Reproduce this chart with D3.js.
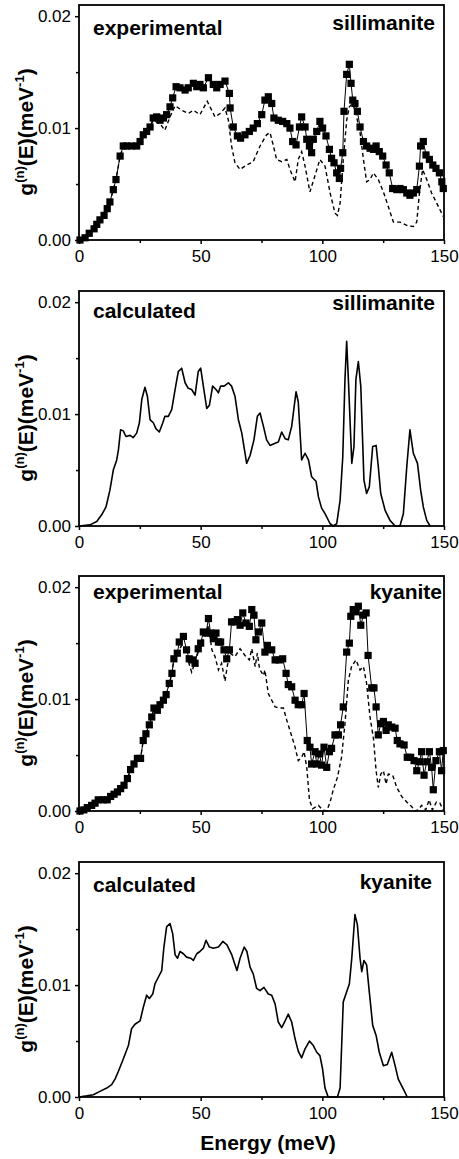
<!DOCTYPE html>
<html>
<head>
<meta charset="utf-8">
<script src="https://cdn.jsdelivr.net/npm/d3@7"></script>
<style>
  html, body { margin: 0; padding: 0; background: #fff; }
  svg { display: block; font-family: "Liberation Sans", Arial, sans-serif; }
</style>
</head>
<body>
<svg id="chart" width="459" height="1159"></svg>
<script>
// ---- data (energy in meV, g(n)(E) in 1/meV) ----
var xTicks = [0, 50, 100, 150];
var xMinorTicks = [25, 75, 125];
var yTicks = [0, 0.01, 0.02];
var yMinorTicks = [0.005, 0.015];

var silExp = [[0.4,0],[2.5,0.0002],[4.2,0.0006],[6.2,0.001],[7.3,0.0014],[8.6,0.0018],[10.3,0.0022],[11.6,0.0028],
  [12.7,0.0034],[14.1,0.0045],[15.2,0.0054],[16.9,0.0075],[18.2,0.0084],[19.6,0.0084],[21.6,0.0084],[23.7,0.0084],
  [25.1,0.0088],[26.4,0.0094],[27.8,0.0097],[29.2,0.0101],[30.5,0.0109],[31.9,0.011],[33.3,0.0107],[34.7,0.0109],
  [36,0.0112],[37.4,0.0119],[38.5,0.0127],[39.9,0.0137],[41.5,0.0136],[43.6,0.0134],[44.9,0.0136],[47,0.014],
  [48.4,0.0137],[49.7,0.0139],[51.1,0.0136],[53.2,0.0145],[55.2,0.0139],[56.6,0.0136],[58,0.0139],[60,0.0142],
  [61.8,0.0131],[62.1,0.0118],[63.4,0.0101],[65.1,0.0093],[66.4,0.0091],[68.2,0.0094],[70,0.0097],[71.6,0.01],
  [73.3,0.0104],[75.1,0.0112],[76.4,0.0125],[77.8,0.0128],[79.2,0.0122],[80.1,0.0109],[81.9,0.0107],[83.7,0.0106],
  [85.4,0.0104],[86.7,0.01],[87.8,0.0088],[89.2,0.0085],[90.6,0.0101],[91.5,0.011],[92.9,0.0101],[93.6,0.009],
  [94.7,0.0084],[95.6,0.0078],[96.3,0.009],[97.7,0.0097],[99,0.0106],[100.1,0.01],[101.5,0.0093],[102.9,0.0081],
  [103.8,0.0073],[104.8,0.0069],[105.9,0.006],[107,0.0055],[107.5,0.0064],[108.4,0.0078],[108.9,0.0115],[110,0.0148],
  [111.1,0.0157],[111.8,0.014],[112.5,0.0125],[113.4,0.0122],[114.4,0.0115],[115.5,0.0101],[116.9,0.0088],[118.2,0.0084],
  [119.6,0.0082],[121,0.0081],[122.1,0.0084],[123.4,0.0079],[124.8,0.0075],[126.2,0.0067],[127.5,0.006],[128.9,0.0046],
  [130.6,0.0045],[131.9,0.0046],[133.3,0.0045],[134.7,0.0042],[136,0.004],[137.4,0.0042],[138.8,0.0045],[139.9,0.0066],
  [140.4,0.0084],[141.5,0.0088],[142.6,0.0076],[144,0.0072],[145.4,0.0067],[146.7,0.0064],[148.1,0.006],[149.1,0.0052],
  [149.7,0.0046]];

var silExpDash = [[0.4,0],[2.5,0.0002],[4.2,0.0006],[6.2,0.001],[7.3,0.0014],[8.6,0.0018],[10.3,0.0022],[11.6,0.0028],
  [12.7,0.0034],[14.1,0.0045],[15.2,0.0054],[16.9,0.0075],[18.2,0.0084],[21.6,0.0084],[23.7,0.0084],[25.1,0.0088],
  [26.4,0.0094],[27.8,0.0097],[29.2,0.0101],[30.5,0.0107],[33.3,0.0104],[35.3,0.0098],[37.4,0.011],[39.5,0.012],
  [42.2,0.0116],[44.9,0.0113],[47,0.0116],[49.7,0.0112],[52.7,0.0124],[55.9,0.011],[58,0.0113],[60,0.0118],
  [61.4,0.0107],[62.7,0.0084],[64.1,0.0069],[66.2,0.0063],[68.9,0.0067],[71.6,0.007],[74.4,0.0084],[77.1,0.0094],
  [78.5,0.0096],[79.9,0.0084],[81.2,0.0072],[83.3,0.007],[85.4,0.0072],[86.7,0.0063],[88.8,0.0052],[90.1,0.0072],
  [91.5,0.0079],[92.9,0.0066],[94.9,0.0043],[96.9,0.0057],[99,0.0072],[101.1,0.0066],[103.2,0.0042],[105.2,0.0024],
  [106.2,0.0022],[107.3,0.0033],[108.6,0.0072],[110,0.0107],[111.1,0.0119],[112.5,0.0122],[113.8,0.0113],[115.5,0.0096],
  [116.9,0.0072],[118.2,0.0052],[119.6,0.0054],[121,0.006],[123,0.0054],[125.1,0.0043],[127.1,0.003],[129.2,0.0016],
  [131.9,0.0016],[134.7,0.0013],[137.4,0.0012],[138.8,0.0016],[139.9,0.0042],[141.2,0.0063],[142.9,0.0054],[144.9,0.0042],
  [147,0.0033],[149.7,0.0021]];

var silCalc = [[0,0],[4.5,0.0001],[7.3,0.0004],[9.3,0.001],[11.1,0.0017],[12.7,0.0032],[14.1,0.005],[15.5,0.0059],
  [16.2,0.0068],[17.1,0.0086],[18.2,0.0085],[19.3,0.008],[21,0.0081],[22.3,0.0079],[23.7,0.0083],[24.8,0.0092],
  [25.8,0.0113],[27.1,0.0124],[28.1,0.0116],[29.2,0.0095],[30.6,0.0092],[31.6,0.0087],[33,0.0084],[34.4,0.0092],
  [35.3,0.0098],[36.7,0.0098],[38.1,0.0104],[39.5,0.0122],[40.8,0.0138],[42.2,0.0141],[43.6,0.0128],[44.9,0.0123],
  [46.3,0.0122],[47.7,0.0117],[49,0.0138],[50,0.0141],[51.1,0.0125],[52.5,0.0105],[53.6,0.0108],[54.9,0.0125],
  [56.3,0.0122],[57.3,0.0119],[58.2,0.0125],[59.6,0.0125],[61.4,0.0128],[62.7,0.0125],[64.1,0.0116],[65.5,0.0095],
  [66.9,0.0083],[68.9,0.0056],[70.3,0.0063],[71.9,0.0077],[73.3,0.0098],[74.4,0.0101],[75.8,0.0089],[77.1,0.0077],
  [78.5,0.0072],[80.6,0.0074],[81.9,0.0075],[83.3,0.0084],[84.7,0.0078],[86,0.0077],[87.4,0.0089],[89.2,0.012],
  [90.1,0.0111],[91.5,0.0059],[92.9,0.0065],[94.3,0.0059],[95.6,0.0044],[97.4,0.004],[98.4,0.0026],[99.7,0.0016],
  [101.1,0.0011],[103.2,0.0002],[104.5,0],[105.9,0.0002],[107.3,0.0023],[108.4,0.0062],[109.3,0.0131],[110,0.0165],
  [110.7,0.0131],[112.1,0.0056],[113,0.0071],[113.8,0.0131],[114.8,0.0147],[115.8,0.0125],[117.1,0.0041],[118.2,0.0029],
  [119.3,0.0035],[120.7,0.0071],[122.1,0.0072],[123,0.0053],[124,0.0029],[125.8,0.0014],[127.8,0.0005],[129.9,0],
  [131.9,0],[133.3,0.0011],[134.7,0.0053],[136,0.0086],[137.4,0.0065],[139.1,0.0056],[140.4,0.0032],[141.5,0.0017],
  [142.9,0.0005],[144.3,0]];

var kyaExp = [[0.4,0],[2,0.0001],[3.4,0.0003],[5.2,0.0005],[6.6,0.0007],[7.9,0.001],[10,0.001],[11.6,0.001],
  [13,0.0013],[14.4,0.0015],[15.8,0.0017],[17.1,0.002],[18.5,0.0023],[19.9,0.0029],[21.2,0.0037],[22.6,0.0042],
  [24,0.0047],[25.3,0.0047],[26.4,0.0063],[27.5,0.0069],[28.9,0.0077],[29.9,0.0084],[30.8,0.0092],[32.2,0.009],
  [33.3,0.0095],[34.7,0.0099],[35.8,0.0104],[37.1,0.0114],[38.2,0.0123],[39,0.0136],[40.4,0.0141],[41.2,0.0151],
  [42.9,0.0156],[44.2,0.0144],[45.3,0.0136],[46.7,0.0135],[47.7,0.0132],[49,0.0145],[50,0.015],[51.1,0.016],
  [52.2,0.0159],[53.2,0.0172],[54.1,0.0159],[55.2,0.0154],[56.3,0.0159],[57.3,0.0151],[58.2,0.0151],[59.6,0.0144],
  [60.7,0.0136],[61.8,0.0144],[62.7,0.0169],[64.1,0.0169],[65.1,0.0171],[66.2,0.0166],[67.3,0.0177],[68.6,0.0168],
  [70,0.0165],[71,0.018],[71.9,0.0175],[72.7,0.0153],[73.7,0.016],[75.1,0.0168],[76.4,0.0142],[77.4,0.0148],
  [79.2,0.0144],[80.6,0.0135],[82.3,0.0135],[83.7,0.0136],[85.1,0.0123],[86,0.0113],[87.4,0.0111],[88.8,0.0099],
  [90.1,0.0095],[91.5,0.0095],[92.5,0.0105],[93.8,0.0063],[94.9,0.0057],[95.6,0.0042],[97,0.0053],[97.7,0.0042],
  [98.8,0.0051],[99.7,0.0041],[100.7,0.0057],[101.8,0.0039],[102.9,0.0053],[103.8,0.0056],[105.2,0.0068],[106.6,0.0068],
  [107.5,0.0077],[108.6,0.0093],[110,0.0142],[111.1,0.015],[111.7,0.0174],[112.7,0.018],[113.8,0.0178],[114.8,0.0183],
  [115.8,0.0166],[116.9,0.0175],[118,0.0177],[118.8,0.0139],[120.3,0.011],[121.2,0.011],[122.1,0.0093],[123,0.0068],
  [124,0.0078],[125.1,0.008],[126.2,0.0072],[127.1,0.0077],[128.5,0.0075],[129.9,0.0074],[130.8,0.0063],[131.9,0.006],
  [133.6,0.0059],[134.9,0.0048],[136.3,0.0048],[137.7,0.0045],[138.8,0.0036],[139.9,0.0044],[140.8,0.0053],[141.8,0.0032],
  [142.9,0.0044],[144,0.0053],[144.9,0.0039],[145.6,0.0019],[146.7,0.0045],[148.1,0.0053],[149,0.0036],[149.7,0.0054]];

var kyaExpDash = [[0.4,0],[2,0.0001],[3.4,0.0003],[5.2,0.0005],[6.6,0.0007],[7.9,0.001],[10,0.001],[11.6,0.001],
  [13,0.0013],[14.4,0.0015],[15.8,0.0017],[17.1,0.002],[18.5,0.0023],[19.9,0.0029],[21.2,0.0037],[22.6,0.0042],
  [24,0.0047],[25.3,0.0047],[26.4,0.0063],[27.5,0.0069],[28.9,0.0077],[29.9,0.0084],[30.8,0.0092],[32.2,0.009],
  [33.3,0.0095],[34.7,0.0099],[35.8,0.0104],[37.1,0.0114],[38.2,0.0123],[39,0.0136],[40.4,0.0141],[42.2,0.0148],
  [44.2,0.0139],[46.3,0.0124],[48.4,0.0138],[50.4,0.0151],[51.8,0.0156],[53.2,0.0166],[54.6,0.0144],[55.9,0.0138],
  [57.3,0.0126],[58.6,0.0132],[60,0.0116],[60.9,0.0129],[62,0.0141],[64.1,0.0138],[66.2,0.0145],[68.2,0.0139],
  [70,0.0135],[71,0.0145],[72.4,0.0129],[73.3,0.0141],[74.2,0.0127],[75.8,0.0121],[76.4,0.0126],[77.8,0.0105],
  [79.2,0.0099],[80.6,0.0093],[82.6,0.0092],[84,0.0092],[85.4,0.0081],[86.7,0.0072],[88.8,0.0057],[90.1,0.0045],
  [91.5,0.0048],[92.5,0.0053],[93.6,0.0039],[94.7,0.001],[96,0.0002],[98.4,0.0005],[100.1,0.0001],[101.8,0],
  [103.2,0.0008],[104.5,0.0019],[106.2,0.003],[107.9,0.0048],[109.3,0.0078],[110.7,0.0117],[112,0.0129],[113.8,0.0135],
  [115.5,0.0126],[116.9,0.0129],[118.2,0.0114],[119.6,0.0084],[121,0.0065],[122.1,0.0036],[123,0.0021],[124,0.0033],
  [125.1,0.0036],[126.2,0.0024],[127.1,0.0033],[128.9,0.0032],[130.6,0.0021],[132.6,0.0013],[134.7,0.0008],[136.7,0.0004],
  [138.1,0],[139.4,0.0001],[140.8,0.0005],[142.5,0.0001],[143.9,0.001],[145.2,0.0001],[146.9,0.0008],[148.3,0.0007],
  [149.7,0.0001]];

var kyaCalc = [[0,0],[3.2,0.0001],[5.9,0.0002],[8.6,0.0005],[11.4,0.0008],[13.4,0.0011],[14.8,0.0016],[16.2,0.0023],
  [18.2,0.0034],[20.3,0.0046],[21.6,0.0061],[23,0.0065],[25.1,0.0068],[26.4,0.008],[27.8,0.0091],[28.9,0.0088],
  [30.3,0.0092],[31.2,0.0101],[32.6,0.0107],[34,0.0113],[34.9,0.0134],[36,0.0152],[37.4,0.0155],[38.5,0.0146],
  [39.5,0.0127],[40.5,0.0124],[41.5,0.013],[42.9,0.0128],[44.2,0.0125],[45.9,0.0124],[47,0.0122],[48.4,0.0128],
  [49.7,0.013],[51.1,0.0133],[52.2,0.014],[53.6,0.0134],[55.2,0.0133],[57.3,0.0134],[59.1,0.0139],[60.8,0.0136],
  [62.8,0.0127],[64.9,0.0113],[66.2,0.0124],[67.9,0.0134],[69,0.013],[70.3,0.0116],[71.6,0.011],[73,0.0097],
  [74.4,0.0095],[76,0.0098],[77.8,0.0092],[79.2,0.0091],[80.6,0.0083],[81.9,0.0067],[83.3,0.0062],[84.7,0.0068],
  [86,0.0074],[87.4,0.0067],[88.8,0.0052],[90.1,0.0041],[91.5,0.0035],[92.9,0.0043],[94.7,0.005],[96.3,0.0046],
  [97.7,0.004],[99,0.0037],[100.1,0.0025],[101.1,0.0008],[102.4,0],[106.2,0],[107.3,0.0008],[108.6,0.0085],
  [110,0.0094],[111.1,0.0101],[112.1,0.0124],[113.4,0.0163],[114.4,0.0154],[115.5,0.0124],[116.2,0.0112],[117.1,0.0122],
  [118.2,0.0118],[119.3,0.0094],[120.7,0.0064],[122.1,0.0055],[123.4,0.004],[125.1,0.0028],[126.7,0.0029],[128.5,0.004],
  [129.9,0.0028],[131.2,0.0016],[133.3,0.0007],[134.9,0]];

var panelKinds = ['experimental', 'calculated', 'experimental', 'calculated'];
var panelMinerals = ['sillimanite', 'sillimanite', 'kyanite', 'kyanite'];
var panelMarked = [silExp, null, kyaExp, null];
var panelDashed = [silExpDash, null, kyaExpDash, null];
var panelSolid = [null, silCalc, null, kyaCalc];

// ---- layout ----
var svg = d3.select('#chart');
var left = 79, right = 444, panelH = 235;
var panelTops = [5, 291, 576, 862];
var kindBase = [30, 27, 23, 30];      // baseline offset of left label from panel top
var mineralBase = [25, 19, 23, 27];   // baseline offset of right label
var mineralRight = [435, 435, 442, 432];
var labelFont = '"Liberation Sans", Arial, sans-serif';

var x = d3.scaleLinear().domain([0, 150]).range([left, right]);

panelTops.forEach(function(top, i) {
  var bottom = top + panelH;
  var y = d3.scaleLinear().domain([0, 0.021]).range([bottom, top]);
  var g = svg.append('g').attr('class', 'panel');

  // minor ticks first, then majors with labels
  g.append('g').attr('transform', 'translate(0,' + bottom + ')')
    .call(d3.axisBottom(x).tickValues(xMinorTicks).tickSize(3).tickFormat(''));
  g.append('g').attr('transform', 'translate(' + left + ',0)')
    .call(d3.axisLeft(y).tickValues(yMinorTicks).tickSize(3).tickFormat(''));

  var xa = g.append('g').attr('transform', 'translate(0,' + bottom + ')')
    .call(d3.axisBottom(x).tickValues(xTicks).tickSize(4).tickPadding(6).tickFormat(d3.format('d')));
  var ya = g.append('g').attr('transform', 'translate(' + left + ',0)')
    .call(d3.axisLeft(y).tickValues(yTicks).tickSize(4).tickPadding(4).tickFormat(d3.format('.2f')));

  g.selectAll('.domain').remove();
  g.selectAll('.tick line').attr('stroke', '#000').attr('stroke-width', 1.5);
  xa.selectAll('text').attr('font-size', 17).attr('fill', '#000').attr('font-family', labelFont);
  ya.selectAll('text').attr('font-size', 17).attr('fill', '#000').attr('font-family', labelFont);

  var line = d3.line().x(function(d) { return x(d[0]); }).y(function(d) { return y(d[1]); });

  if(panelDashed[i]) {
    g.append('path').datum(panelDashed[i])
      .attr('d', line).attr('fill', 'none').attr('stroke', '#000')
      .attr('stroke-width', 1.4).attr('stroke-dasharray', '4,3');
  }
  if(panelMarked[i]) {
    g.append('path').datum(panelMarked[i])
      .attr('d', line).attr('fill', 'none').attr('stroke', '#000').attr('stroke-width', 1);
    g.selectAll('rect.pt').data(panelMarked[i]).enter()
      .append('rect').attr('class', 'pt')
      .attr('x', function(d) { return x(d[0]) - 3.6; })
      .attr('y', function(d) { return y(d[1]) - 3.6; })
      .attr('width', 7.2).attr('height', 7.2)
      .attr('fill', '#000');
  }
  if(panelSolid[i]) {
    g.append('path').datum(panelSolid[i])
      .attr('d', line).attr('fill', 'none').attr('stroke', '#000')
      .attr('stroke-width', 1.6).attr('stroke-linejoin', 'round');
  }

  // frame
  g.append('rect').attr('x', left).attr('y', top)
    .attr('width', right - left).attr('height', panelH)
    .attr('fill', 'none').attr('stroke', '#000').attr('stroke-width', 1.8);

  g.append('text').attr('x', 93).attr('y', top + kindBase[i])
    .attr('font-size', 21).attr('font-weight', 'bold').text(panelKinds[i]);
  g.append('text').attr('x', mineralRight[i]).attr('y', top + mineralBase[i])
    .attr('text-anchor', 'end').attr('font-size', 21).attr('font-weight', 'bold')
    .text(panelMinerals[i]);

  // y title with superscripts
  var yt = g.append('text')
    .attr('transform', 'translate(33,' + (bottom - 108) + ') rotate(-90)')
    .attr('text-anchor', 'middle').attr('font-size', 21).attr('font-weight', 'bold');
  yt.append('tspan').text('g');
  yt.append('tspan').attr('font-size', 13).attr('dy', -9).text('(n)');
  yt.append('tspan').attr('dy', 9).text('(E)(meV');
  yt.append('tspan').attr('font-size', 13).attr('dy', -9).text('-1');
  yt.append('tspan').attr('dy', 9).text(')');
});

svg.append('text').attr('x', 268).attr('y', 1150)
  .attr('text-anchor', 'middle').attr('font-size', 21).attr('font-weight', 'bold')
  .text('Energy (meV)');
</script>
</body>
</html>
